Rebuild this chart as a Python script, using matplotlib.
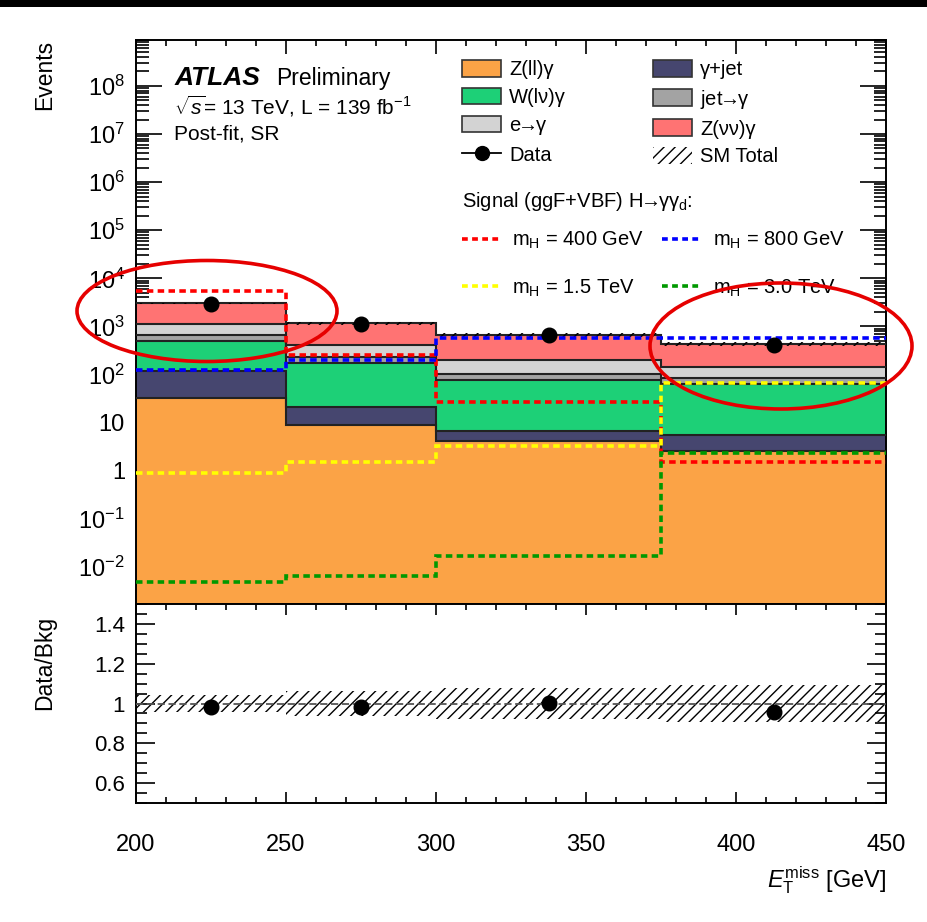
import matplotlib
matplotlib.use("Agg")
import matplotlib.pyplot as plt
import numpy as np
from matplotlib.patches import Patch, Ellipse, Rectangle
from matplotlib.lines import Line2D
from matplotlib.ticker import FixedLocator, FuncFormatter, NullFormatter, MultipleLocator

plt.rcParams['font.family'] = ['Liberation Sans', 'DejaVu Sans']
plt.rcParams['mathtext.fontset'] = 'custom'
plt.rcParams['mathtext.rm'] = 'Liberation Sans'
plt.rcParams['mathtext.it'] = 'Liberation Sans:italic'
plt.rcParams['mathtext.bf'] = 'Liberation Sans:bold'
plt.rcParams['hatch.linewidth'] = 1.0

# binning (MET in GeV)
edges = [200, 250, 300, 375, 450]

# background yields per bin (post-fit)
zllg = [32, 9.1, 4.2, 2.6]
gamjet = [88, 12, 2.4, 3.0]
wlvg = [370, 154, 71, 58]
jetfake = [160, 62, 25, 21]
efake = [500, 183, 101, 57]
zvvg = [1850, 750, 466, 293]
bkg_relerr = [0.045, 0.065, 0.078, 0.095]

data = [2950, 1150, 670, 415]

# signal yields
sig400 = [5400, 250, 27, 1.5]
sig800 = [127, 204, 570, 580]
sig1500 = [0.9, 1.5, 3.2, 66]
sig3000 = [0.0049, 0.0065, 0.017, 2.3]

arrow = '$\\!\\!\\rightarrow\\!\\!$'
bkg_names = ['Z(ll)γ', 'γ+jet', 'W(lν)γ', 'jet' + arrow + 'γ', 'e' + arrow + 'γ', 'Z(νν)γ']
bkg_cols = ['#fba346', '#46466f', '#1dd077', '#a3a3a3', '#d3d3d3', '#ff7373']
stack = [zllg, gamjet, wlvg, jetfake, efake, zvvg]

sig_names = ['m$_{\\mathrm{H}}$ = 400 GeV', 'm$_{\\mathrm{H}}$ = 800 GeV',
             'm$_{\\mathrm{H}}$ = 1.5 TeV', 'm$_{\\mathrm{H}}$ = 3.0 TeV']
sig_cols = ['#ff0000', '#0000ff', '#ffff00', '#009900']
sigs = [sig400, sig800, sig1500, sig3000]

edges = np.array(edges, dtype=float)
centers = 0.5 * (edges[:-1] + edges[1:])

fig = plt.figure(figsize=(9.27, 9.22), dpi=100)
W, H = 927.0, 922.0
ax = fig.add_axes([136 / W, 1 - 604 / H, 750 / W, 564 / H])
rax = fig.add_axes([136 / W, 1 - 803 / H, 750 / W, 199 / H], sharex=ax)

ymin, ymax = 1.7e-3, 9e8
bottom = np.full(4, 1e-5)
for vals, col in zip(stack, bkg_cols):
    top = bottom + np.array(vals)
    ax.stairs(top, edges, baseline=bottom, fill=True, facecolor=col,
              edgecolor='none', zorder=2)
    ax.stairs(top, edges, baseline=None, color='#222222', lw=1.5, zorder=3)
    bottom = top
total = bottom
relerr = np.array(bkg_relerr)

ax.stairs(total * (1 + relerr), edges, baseline=total * (1 - relerr), fill=True,
          facecolor='none', edgecolor='black', hatch='///', lw=0, zorder=4)

for vals, col in zip(sigs, sig_cols):
    ax.stairs(vals, edges, baseline=None, color=col, lw=2.6,
              linestyle=(0, (1.8, 1.2)), zorder=5)

ax.plot(centers, data, 'o', color='black', ms=10.5, zorder=6)

ax.set_yscale('log')
ax.set_ylim(ymin, ymax)
ax.set_xlim(200, 450)


def logfmt(v, pos):
    e = int(round(np.log10(v)))
    if e == 0:
        return '1'
    if e == 1:
        return '10'
    return '$10^{%d}$' % e


decades = [10.0 ** e for e in range(-2, 9)]
minors = [m * 10.0 ** e for e in range(-3, 9) for m in range(2, 10)
          if ymin <= m * 10.0 ** e <= ymax]
ax.yaxis.set_major_locator(FixedLocator(decades))
ax.yaxis.set_major_formatter(FuncFormatter(logfmt))
ax.yaxis.set_minor_locator(FixedLocator(minors))
ax.yaxis.set_minor_formatter(NullFormatter())
ax.xaxis.set_major_locator(MultipleLocator(50))
ax.xaxis.set_minor_locator(MultipleLocator(10))
ax.tick_params(axis='both', which='both', direction='in', top=True, right=True,
               width=1.2)
ax.tick_params(axis='y', which='major', length=19, labelsize=17, pad=8)
ax.tick_params(axis='y', which='minor', length=9)
ax.tick_params(axis='x', which='major', length=10, labelbottom=False)
ax.tick_params(axis='x', which='minor', length=4)
for s in ax.spines.values():
    s.set_linewidth(1.4)

# legends
handles = []
labels = []
for i in range(6):
    handles.append(Patch(facecolor=bkg_cols[i], edgecolor='#333333', lw=1.2))
    labels.append(bkg_names[i])
handles.append(Line2D([], [], color='black', marker='o', ms=10, lw=1.3))
labels.append('Data')
handles.append(Patch(facecolor='none', edgecolor='black', hatch='///', lw=0))
labels.append('SM Total')
col1 = [0, 2, 4, 6]
col2 = [1, 3, 5, 7]
h2 = [handles[i] for i in col1 + col2]
l2 = [labels[i] for i in col1 + col2]
leg = ax.legend(h2, l2, ncol=2, loc='upper left',
                bbox_to_anchor=((462 - 136) / 750, (604 - 60) / 564),
                frameon=False, fontsize=14.5, handlelength=1.95,
                handleheight=0.9, handletextpad=0.4, labelspacing=0.42,
                columnspacing=4.3, borderaxespad=0, borderpad=0)
ax.add_artist(leg)

sh = [Line2D([], [], color=c, lw=2.6, linestyle=(0, (1.6, 1.2))) for c in sig_cols]
leg2 = ax.legend([sh[0], sh[2], sh[1], sh[3]],
                 [sig_names[0], sig_names[2], sig_names[1], sig_names[3]],
                 ncol=2, loc='upper left',
                 bbox_to_anchor=((462 - 136) / 750, (604 - 230) / 564),
                 frameon=False, fontsize=14.5, handlelength=1.9,
                 handletextpad=0.6, labelspacing=1.3, columnspacing=0.9,
                 borderaxespad=0, borderpad=0)

ax.text((462 - 136) / 750, (604 - 201) / 564,
        'Signal (ggF+VBF) H' + arrow + 'γγ$_{\\mathrm{d}}$:', transform=ax.transAxes,
        fontsize=14.5, ha='left', va='center')

ax.text((175 - 136) / 750, (604 - 78) / 564, 'ATLAS', transform=ax.transAxes,
        fontsize=19, fontweight='bold', fontstyle='italic', ha='left', va='center')
ax.text((276 - 136) / 750, (604 - 78) / 564, 'Preliminary', transform=ax.transAxes,
        fontsize=16.5, ha='left', va='center')
ax.text((174 - 136) / 750, (604 - 106) / 564,
        '$\\sqrt{s}$= 13 TeV, L = 139 fb$^{-1}$', transform=ax.transAxes,
        fontsize=15, ha='left', va='center')
ax.text((174 - 136) / 750, (604 - 134) / 564, 'Post-fit, SR',
        transform=ax.transAxes, fontsize=15, ha='left', va='center')

fig.text(45 / W, 1 - 40 / H, 'Events', rotation=90, fontsize=16.5,
         ha='center', va='top')

# ratio panel
ratio = np.array(data) / total
rax.stairs(1 + relerr, edges, baseline=1 - relerr, fill=True,
           facecolor='none', edgecolor='black', hatch='///', lw=0, zorder=2)
rax.axhline(1, color='#555555', ls=(0, (4, 2)), lw=1.3, zorder=3)
rax.plot(centers, ratio, 'o', color='black', ms=10.5, zorder=5)
rax.set_ylim(0.5, 1.5)
rax.set_xlim(200, 450)
rax.yaxis.set_major_locator(FixedLocator([0.6, 0.8, 1.0, 1.2, 1.4]))
rax.yaxis.set_major_formatter(FuncFormatter(lambda v, p: '%g' % v))
rax.yaxis.set_minor_locator(MultipleLocator(0.05))
rax.tick_params(axis='both', which='both', direction='in', top=True, right=True,
                width=1.2)
rax.tick_params(axis='y', which='major', length=14, labelsize=16, pad=8)
rax.tick_params(axis='y', which='minor', length=8)
rax.tick_params(axis='x', which='major', length=8, labelsize=17, pad=22)
rax.tick_params(axis='x', which='minor', length=4)
for s in rax.spines.values():
    s.set_linewidth(1.4)
fig.text(45 / W, 1 - 616 / H, 'Data/Bkg', rotation=90, fontsize=16.5,
         ha='center', va='top')
fig.text(886 / W, 1 - 880 / H, '$E_{\\mathrm{T}}^{\\mathrm{miss}}$ [GeV]',
         fontsize=17, ha='right', va='center')

# red highlight ellipses
fig.add_artist(Ellipse((207 / W, 1 - 311 / H), 260 / W, 101 / H,
                       transform=fig.transFigure, fill=False,
                       edgecolor='#e60000', lw=2.6, zorder=10))
fig.add_artist(Ellipse((781 / W, 1 - 346 / H), 262 / W, 126 / H,
                       transform=fig.transFigure, fill=False,
                       edgecolor='#e60000', lw=2.6, zorder=10))
fig.add_artist(Rectangle((0, 1 - 7 / H), 1, 7 / H, transform=fig.transFigure,
                         facecolor='black', edgecolor='none'))

fig.savefig('out.png', dpi=100)
